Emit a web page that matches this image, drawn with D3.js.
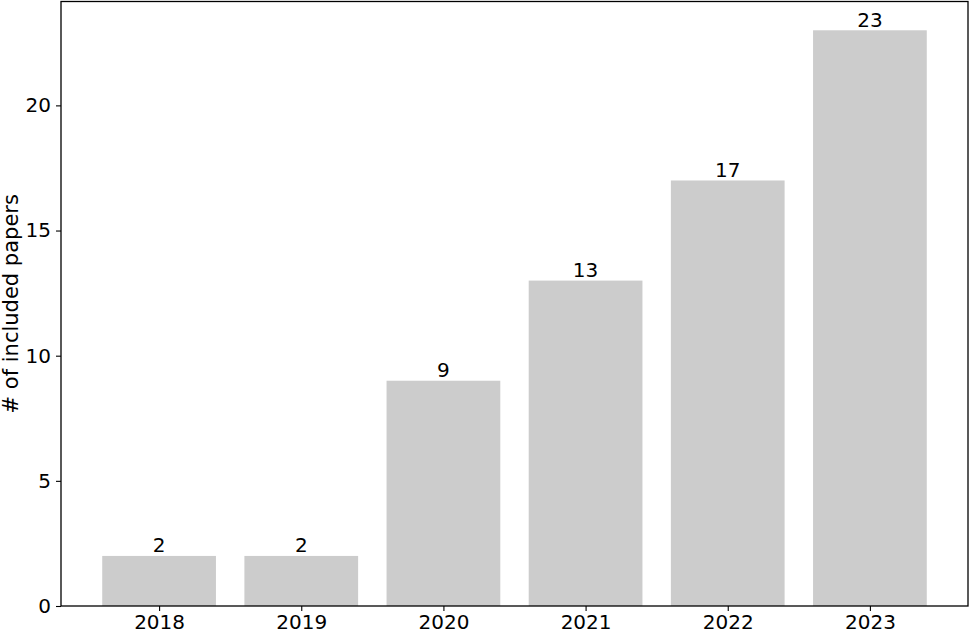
<!DOCTYPE html>
<html><head><meta charset="utf-8">
<script src="https://cdn.jsdelivr.net/npm/d3@7"></script>
<style>body{margin:0;background:#fff}svg{display:block}</style>
</head><body>
<svg id="c" width="970" height="632"></svg>
<script>
const categories = ["2018","2019","2020","2021","2022","2023"];
const values = [2,2,9,13,17,23];
const yTicks = [0,5,10,15,20];
const yLabel = "# of included papers";

const svg = d3.select("#c");
const L = 61, R = 968, T = 1.5, B = 606;
const font = "DejaVu Sans, sans-serif";
const fs = 20;

const x = d3.scaleLinear().domain([-0.69, 5.69]).range([L, R]);
const y = d3.scaleLinear().domain([0, 24.15]).range([B, T]);
const bw = x(0.4) - x(-0.4);

svg.append("g").selectAll("rect").data(values).join("rect")
  .attr("x", (d,i) => x(i) - bw/2)
  .attr("width", bw)
  .attr("y", d => y(d))
  .attr("height", d => y(0) - y(d))
  .attr("fill", "#cccccc");

svg.append("g").selectAll("text").data(values).join("text")
  .attr("x", (d,i) => x(i))
  .attr("y", d => y(d) - 3.5)
  .attr("text-anchor", "middle")
  .attr("font-family", font).attr("font-size", fs)
  .text(d => d);

const xAxis = d3.axisBottom(x).tickValues(d3.range(categories.length))
  .tickFormat(i => categories[i]).tickSize(5).tickPadding(4);
const gx = svg.append("g").attr("transform", `translate(0,${B})`).call(xAxis);
const yAxis = d3.axisLeft(y).tickValues(yTicks).tickSize(5).tickPadding(5);
const gy = svg.append("g").attr("transform", `translate(${L},0)`).call(yAxis);
[gx, gy].forEach(g => {
  g.select(".domain").remove();
  g.selectAll("text").attr("font-family", font).attr("font-size", fs).attr("fill", "#000");
  g.selectAll("line").attr("stroke", "#000").attr("stroke-width", 1.1);
});

svg.append("rect").attr("x", L).attr("y", T).attr("width", R - L).attr("height", B - T)
  .attr("fill", "none").attr("stroke", "#000").attr("stroke-width", 1.3);

svg.append("text")
  .attr("transform", `translate(18,${(T + B) / 2}) rotate(-90)`)
  .attr("text-anchor", "middle")
  .attr("font-family", font).attr("font-size", 21)
  .text(yLabel);
</script>
</body></html>
